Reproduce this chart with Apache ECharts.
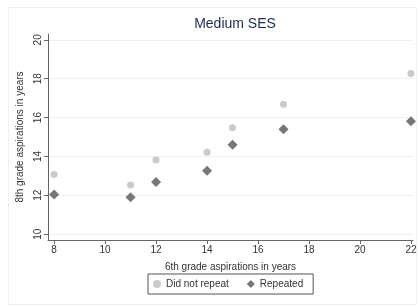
<!DOCTYPE html>
<html><head><meta charset="utf-8">
<script src="https://cdn.jsdelivr.net/npm/echarts@6/dist/echarts.min.js"></script>
<style>html,body{margin:0;padding:0;background:#fff}#c{width:420px;height:307px}</style>
</head><body><div id="c"></div>
<script>
const xNotRepeat = [8, 11, 12, 14, 15, 17, 22];
const yNotRepeat = [13.07, 12.53, 13.82, 14.22, 15.47, 16.69, 18.27];
const xRepeated = [8, 11, 12, 14, 15, 17, 22];
const yRepeated = [12.04, 11.9, 12.69, 13.26, 14.6, 15.4, 15.81];
const xTicks = [8, 10, 12, 14, 16, 18, 20, 22];
const yTicks = [10, 12, 14, 16, 18, 20];
const seriesNames = ['Did not repeat', 'Repeated'];

const font = 'Liberation Sans, Arial, sans-serif';
const chart = echarts.init(document.getElementById('c'), null, {renderer: 'canvas'});
chart.setOption({
  animation: false,
  backgroundColor: '#fff',
  graphic: [{type: 'rect', left: 6, top: 5, shape: {width: 408, height: 297},
    style: {fill: 'none', stroke: '#f0f0f0', lineWidth: 1}, silent: true, z: -1}],
  title: {text: 'Medium SES', left: 230, textAlign: 'center', top: 12,
    textStyle: {fontFamily: font, fontWeight: 'normal', fontSize: 14, color: '#1c2c4f'}},
  grid: {left: 48, right: 7, top: 34, bottom: 67},
  xAxis: {type: 'value', min: 7.76, max: 22.08,
    name: '6th grade aspirations in years', nameLocation: 'middle', nameGap: 22,
    nameTextStyle: {fontFamily: font, fontSize: 10, color: '#333'},
    axisLine: {show: true, lineStyle: {color: '#666', width: 1}},
    axisTick: {show: true, length: 4, customValues: xTicks, lineStyle: {color: '#666'}},
    axisLabel: {customValues: xTicks, fontFamily: font, fontSize: 10, color: '#333', margin: 5},
    splitLine: {show: false}},
  yAxis: {type: 'value', min: 9.7, max: 20.3,
    name: '8th grade aspirations in years', nameLocation: 'middle', nameGap: 20, nameRotate: 90,
    nameTextStyle: {fontFamily: font, fontSize: 10, color: '#333'},
    axisLine: {show: true, lineStyle: {color: '#666', width: 1}},
    axisTick: {show: true, length: 4, customValues: yTicks, lineStyle: {color: '#666'}},
    axisLabel: {customValues: yTicks, rotate: 90, fontFamily: font, fontSize: 10, color: '#333', margin: 5},
    splitLine: {show: true, lineStyle: {color: '#eaf2f2', width: 1}}},
  legend: {data: seriesNames, left: 148, top: 274, orient: 'horizontal',
    borderColor: '#555', borderWidth: 1, padding: [5, 10, 5, 5], itemGap: 18,
    itemWidth: 8, itemHeight: 8,
    textStyle: {fontFamily: font, fontSize: 10, color: '#333'}},
  series: [
    {name: seriesNames[0], type: 'scatter', symbol: 'circle', symbolSize: 7,
      itemStyle: {color: '#bdbdbd'},
      data: xNotRepeat.map((x, i) => [x, yNotRepeat[i]])},
    {name: seriesNames[1], type: 'scatter', symbol: 'diamond', symbolSize: 10,
      itemStyle: {color: '#555555'},
      data: xRepeated.map((x, i) => [x, yRepeated[i]])}
  ]
});
</script></body></html>
